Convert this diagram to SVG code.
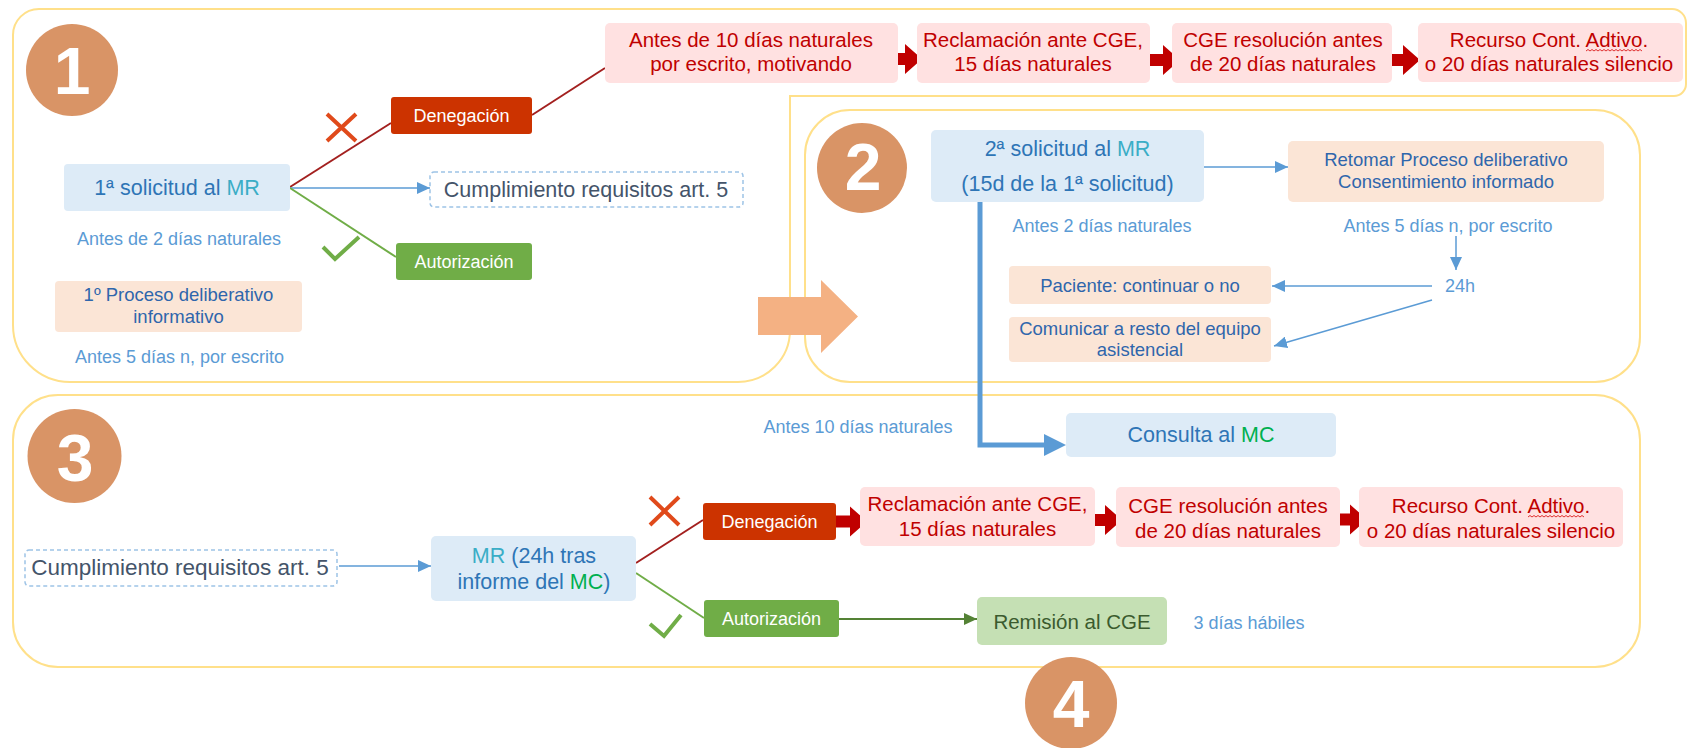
<svg xmlns="http://www.w3.org/2000/svg" xmlns:xlink="http://www.w3.org/1999/xlink" width="1689" height="748" viewBox="0 0 1689 748">
<style>
text{font-family:"Liberation Sans",Arial,sans-serif;}
.panel{fill:none;stroke:#FFE08A;stroke-width:2;}
.circ{fill:#D99466;}
.num{fill:#FFFFFF;font-weight:bold;font-size:66px;text-anchor:middle;}
.bl{fill:#DDEBF7;}
.pe{fill:#FBE5D6;}
.pk{fill:#FFE1E1;}
.den{fill:#CC3300;}
.aut{fill:#70AD47;}
.rem{fill:#C5E0B4;}
.dash{fill:#FFFFFF;stroke:#9DC3E6;stroke-width:1.5;stroke-dasharray:4 3;}
.c{text-anchor:middle;}
.tb{fill:#2E75B6;font-size:21.5px;}
.tp{fill:#2F66AC;font-size:18.5px;}
.tk{fill:#C00000;font-size:20.5px;}
.tw{fill:#FFFFFF;font-size:18px;}
.lab{fill:#5B9BD5;font-size:18px;}
.td{fill:#44546A;font-size:21.5px;}
.mr{fill:#3AADC6;}
.mc{fill:#00B050;}
.lr{stroke:#A3201F;stroke-width:2;fill:none;}
.lg{stroke:#70AD47;stroke-width:2;fill:none;}
.lb{stroke:#5B9BD5;stroke-width:1.5;fill:none;}
.blk{fill:#C00000;}
.xm{stroke:#E04A1B;stroke-width:4;fill:none;}
.ck{stroke:#70AD47;stroke-width:4;fill:none;}
.sq{stroke:#E03030;stroke-width:1;fill:none;}
</style>
<defs>
<marker id="ab" markerUnits="userSpaceOnUse" markerWidth="14" markerHeight="12" refX="13" refY="6" orient="auto">
<path d="M0,0 L13,6 L0,12 Z" fill="#5B9BD5"/>
</marker>
<marker id="ag" markerUnits="userSpaceOnUse" markerWidth="14" markerHeight="12" refX="13" refY="6" orient="auto">
<path d="M0,0 L13,6 L0,12 Z" fill="#548235"/>
</marker>
<path id="blkarrow" d="M0,-6 H15 V-15 L32,0 L15,15 V6 H0 Z"/>
</defs>

<!-- panels -->
<g id="panels">
<path class="panel" d="M13,35 A26,26 0 0 1 39,9 L1672,9 A14,14 0 0 1 1686,23 L1686,84 A12,12 0 0 1 1674,96 L790,96 L790,330 A52,52 0 0 1 738,382 L70,382 A57,57 0 0 1 13,325 Z"/>
<rect class="panel" x="805" y="110" width="835" height="272" rx="45" ry="45"/>
<rect class="panel" x="13" y="395" width="1627" height="272" rx="45" ry="45"/>
</g>

<!-- connectors -->
<g id="connectors">
<line class="lr" x1="290" y1="187" x2="391" y2="123"/>
<line class="lr" x1="532" y1="115" x2="605" y2="68"/>
<line class="lb" x1="290" y1="188" x2="430" y2="188" marker-end="url(#ab)"/>
<line class="lg" x1="290" y1="188" x2="396" y2="257"/>
<use href="#blkarrow" class="blk" x="890" y="59"/>
<use href="#blkarrow" class="blk" x="1148" y="60"/>
<use href="#blkarrow" class="blk" x="1388" y="60"/>
<path d="M758,297 H821 V280 L858,316.5 L821,353 V335 H758 Z" fill="#F4B183"/>
<line class="lb" x1="1204" y1="167" x2="1288" y2="167" marker-end="url(#ab)"/>
<line class="lb" x1="1456" y1="236" x2="1456" y2="270" marker-end="url(#ab)"/>
<line class="lb" x1="1432" y1="286" x2="1272" y2="286" marker-end="url(#ab)"/>
<line class="lb" x1="1432" y1="300" x2="1274" y2="346" marker-end="url(#ab)"/>
<path d="M980,202 V445 H1046" fill="none" stroke="#5B9BD5" stroke-width="5"/>
<path d="M1044,434 L1066,445 L1044,456 Z" fill="#5B9BD5"/>
<line class="lb" x1="339" y1="566" x2="431" y2="566" marker-end="url(#ab)"/>
<line class="lr" x1="636" y1="563" x2="703" y2="520"/>
<line class="lg" x1="636" y1="573" x2="704" y2="618"/>
<use href="#blkarrow" class="blk" x="835" y="521.5"/>
<use href="#blkarrow" class="blk" x="1090" y="520"/>
<use href="#blkarrow" class="blk" x="1335" y="519.5"/>
<line x1="839" y1="619" x2="977" y2="619" stroke="#548235" stroke-width="1.8" marker-end="url(#ag)"/>
</g>

<!-- step circles -->
<g id="step1"><circle class="circ" cx="72" cy="70" r="46"/><text class="num" x="72" y="94">1</text></g>
<g id="step2"><circle class="circ" cx="862" cy="168" r="45"/><text class="num" x="863" y="190">2</text></g>
<g id="step3"><circle class="circ" cx="74.5" cy="456" r="47"/><text class="num" x="75" y="481">3</text></g>
<g id="step4"><circle class="circ" cx="1071" cy="703" r="46"/><text class="num" x="1071" y="727">4</text></g>

<!-- marks -->
<g id="marks">
<path class="xm" d="M327,114 L356,141 M356,114 L327,141"/>
<path class="ck" d="M323,247 L335,259 L359,237"/>
<path class="xm" d="M650,497 L679,525 M679,497 L650,525"/>
<path class="ck" d="M650,624 L664,636 L681,615"/>
</g>

<!-- panel 1 nodes -->
<g id="sol1">
<rect class="bl" x="64" y="164" width="226" height="47" rx="4"/>
<text class="tb c" x="177" y="195">1ª solicitud al <tspan class="mr">MR</tspan></text>
</g>
<g id="lab-antes2"><text class="lab c" x="179" y="244.5">Antes de 2 días naturales</text></g>
<g id="proc1">
<rect class="pe" x="55" y="281" width="247" height="51" rx="4"/>
<text class="tp c" x="178.5" y="301">1º Proceso deliberativo</text>
<text class="tp c" x="178.5" y="323">informativo</text>
</g>
<g id="lab-antes5a"><text class="lab c" x="179.5" y="363">Antes 5 días n, por escrito</text></g>
<g id="den1">
<rect class="den" x="391" y="97" width="141" height="37" rx="3"/>
<text class="tw c" x="461.5" y="122">Denegación</text>
</g>
<g id="aut1">
<rect class="aut" x="396" y="243" width="136" height="37" rx="3"/>
<text class="tw c" x="464" y="267.5">Autorización</text>
</g>
<g id="cump1">
<rect class="dash" x="430" y="172" width="313" height="35" rx="4"/>
<text class="td c" x="586" y="197">Cumplimiento requisitos art. 5</text>
</g>

<!-- top strip -->
<g id="b1">
<rect class="pk" x="605" y="23" width="293" height="60" rx="5"/>
<text class="tk c" x="751" y="47">Antes de 10 días naturales</text>
<text class="tk c" x="751" y="71">por escrito, motivando</text>
</g>
<g id="b2">
<rect class="pk" x="917" y="23" width="233" height="60" rx="5"/>
<text class="tk c" x="1033" y="47">Reclamación ante CGE,</text>
<text class="tk c" x="1033" y="71">15 días naturales</text>
</g>
<g id="b3">
<rect class="pk" x="1172" y="23" width="220" height="60" rx="5"/>
<text class="tk c" x="1283" y="47">CGE resolución antes</text>
<text class="tk c" x="1283" y="71">de 20 días naturales</text>
</g>
<g id="b4">
<rect class="pk" x="1418" y="23" width="265" height="59" rx="5"/>
<text class="tk c" x="1549" y="47">Recurso Cont. Adtivo.</text>
<text class="tk c" x="1549" y="71">o 20 días naturales silencio</text>
<path class="sq" d="M1586,51 l2,-1.5 2,1.5 2,-1.5 2,1.5 2,-1.5 2,1.5 2,-1.5 2,1.5 2,-1.5 2,1.5 2,-1.5 2,1.5 2,-1.5 2,1.5 2,-1.5 2,1.5 2,-1.5 2,1.5 2,-1.5 2,1.5 2,-1.5 2,1.5 2,-1.5 2,1.5 2,-1.5 2,1.5 2,-1.5 2,1.5"/>
</g>

<!-- panel 2 nodes -->
<g id="sol2">
<rect class="bl" x="931" y="130" width="273" height="72" rx="5"/>
<text class="tb c" x="1067.5" y="156">2ª solicitud al <tspan class="mr">MR</tspan></text>
<text class="tb c" x="1067.5" y="191">(15d de la 1ª solicitud)</text>
</g>
<g id="lab-antes2b"><text class="lab c" x="1102" y="231.5">Antes 2 días naturales</text></g>
<g id="retomar">
<rect class="pe" x="1288" y="141" width="316" height="61" rx="5"/>
<text class="tp c" x="1446" y="166">Retomar Proceso deliberativo</text>
<text class="tp c" x="1446" y="188">Consentimiento informado</text>
</g>
<g id="lab-antes5b"><text class="lab c" x="1448" y="231.5">Antes 5 días n, por escrito</text></g>
<g id="lab-24h"><text class="lab c" x="1460" y="292">24h</text></g>
<g id="paciente">
<rect class="pe" x="1009" y="266" width="262" height="38" rx="4"/>
<text class="tp c" x="1140" y="291.5">Paciente: continuar o no</text>
</g>
<g id="comunicar">
<rect class="pe" x="1009" y="317" width="262" height="45" rx="4"/>
<text class="tp c" x="1140" y="335">Comunicar a resto del equipo</text>
<text class="tp c" x="1140" y="356">asistencial</text>
</g>

<!-- panel 3 nodes -->
<g id="lab-antes10"><text class="lab c" x="858" y="432.5">Antes 10 días naturales</text></g>
<g id="consulta">
<rect class="bl" x="1066" y="413" width="270" height="44" rx="5"/>
<text class="tb c" x="1201" y="442">Consulta al <tspan class="mc">MC</tspan></text>
</g>
<g id="cump3">
<rect class="dash" x="25" y="550" width="312" height="36" rx="4"/>
<text class="td c" x="180" y="575" style="font-size:22.5px">Cumplimiento requisitos art. 5</text>
</g>
<g id="mr3">
<rect class="bl" x="431" y="536" width="205" height="65" rx="5"/>
<text class="tb c" x="534" y="563"><tspan class="mr">MR</tspan> (24h tras</text>
<text class="tb c" x="534" y="589">informe del <tspan class="mc">MC</tspan>)</text>
</g>
<g id="den3">
<rect class="den" x="703" y="503" width="133" height="37" rx="3"/>
<text class="tw c" x="769.5" y="528">Denegación</text>
</g>
<g id="aut3">
<rect class="aut" x="704" y="600" width="135" height="37" rx="3"/>
<text class="tw c" x="771.5" y="624.5">Autorización</text>
</g>
<g id="rec3">
<rect class="pk" x="860" y="487" width="235" height="59" rx="5"/>
<text class="tk c" x="977.5" y="511">Reclamación ante CGE,</text>
<text class="tk c" x="977.5" y="536">15 días naturales</text>
</g>
<g id="cge3">
<rect class="pk" x="1116" y="487" width="224" height="60" rx="5"/>
<text class="tk c" x="1228" y="513">CGE resolución antes</text>
<text class="tk c" x="1228" y="538">de 20 días naturales</text>
</g>
<g id="recurso3">
<rect class="pk" x="1359" y="487" width="264" height="60" rx="5"/>
<text class="tk c" x="1491" y="513">Recurso Cont. Adtivo.</text>
<text class="tk c" x="1491" y="538">o 20 días naturales silencio</text>
<path class="sq" d="M1528,517 l2,-1.5 2,1.5 2,-1.5 2,1.5 2,-1.5 2,1.5 2,-1.5 2,1.5 2,-1.5 2,1.5 2,-1.5 2,1.5 2,-1.5 2,1.5 2,-1.5 2,1.5 2,-1.5 2,1.5 2,-1.5 2,1.5 2,-1.5 2,1.5 2,-1.5 2,1.5 2,-1.5 2,1.5 2,-1.5 2,1.5"/>
</g>
<g id="remision">
<rect class="rem" x="977" y="597" width="190" height="48" rx="5"/>
<text class="c" x="1072" y="628.5" style="fill:#3B5B2E;font-size:20.5px">Remisión al CGE</text>
</g>
<g id="lab-3dias"><text class="lab c" x="1249" y="628.5">3 días hábiles</text></g>
</svg>
